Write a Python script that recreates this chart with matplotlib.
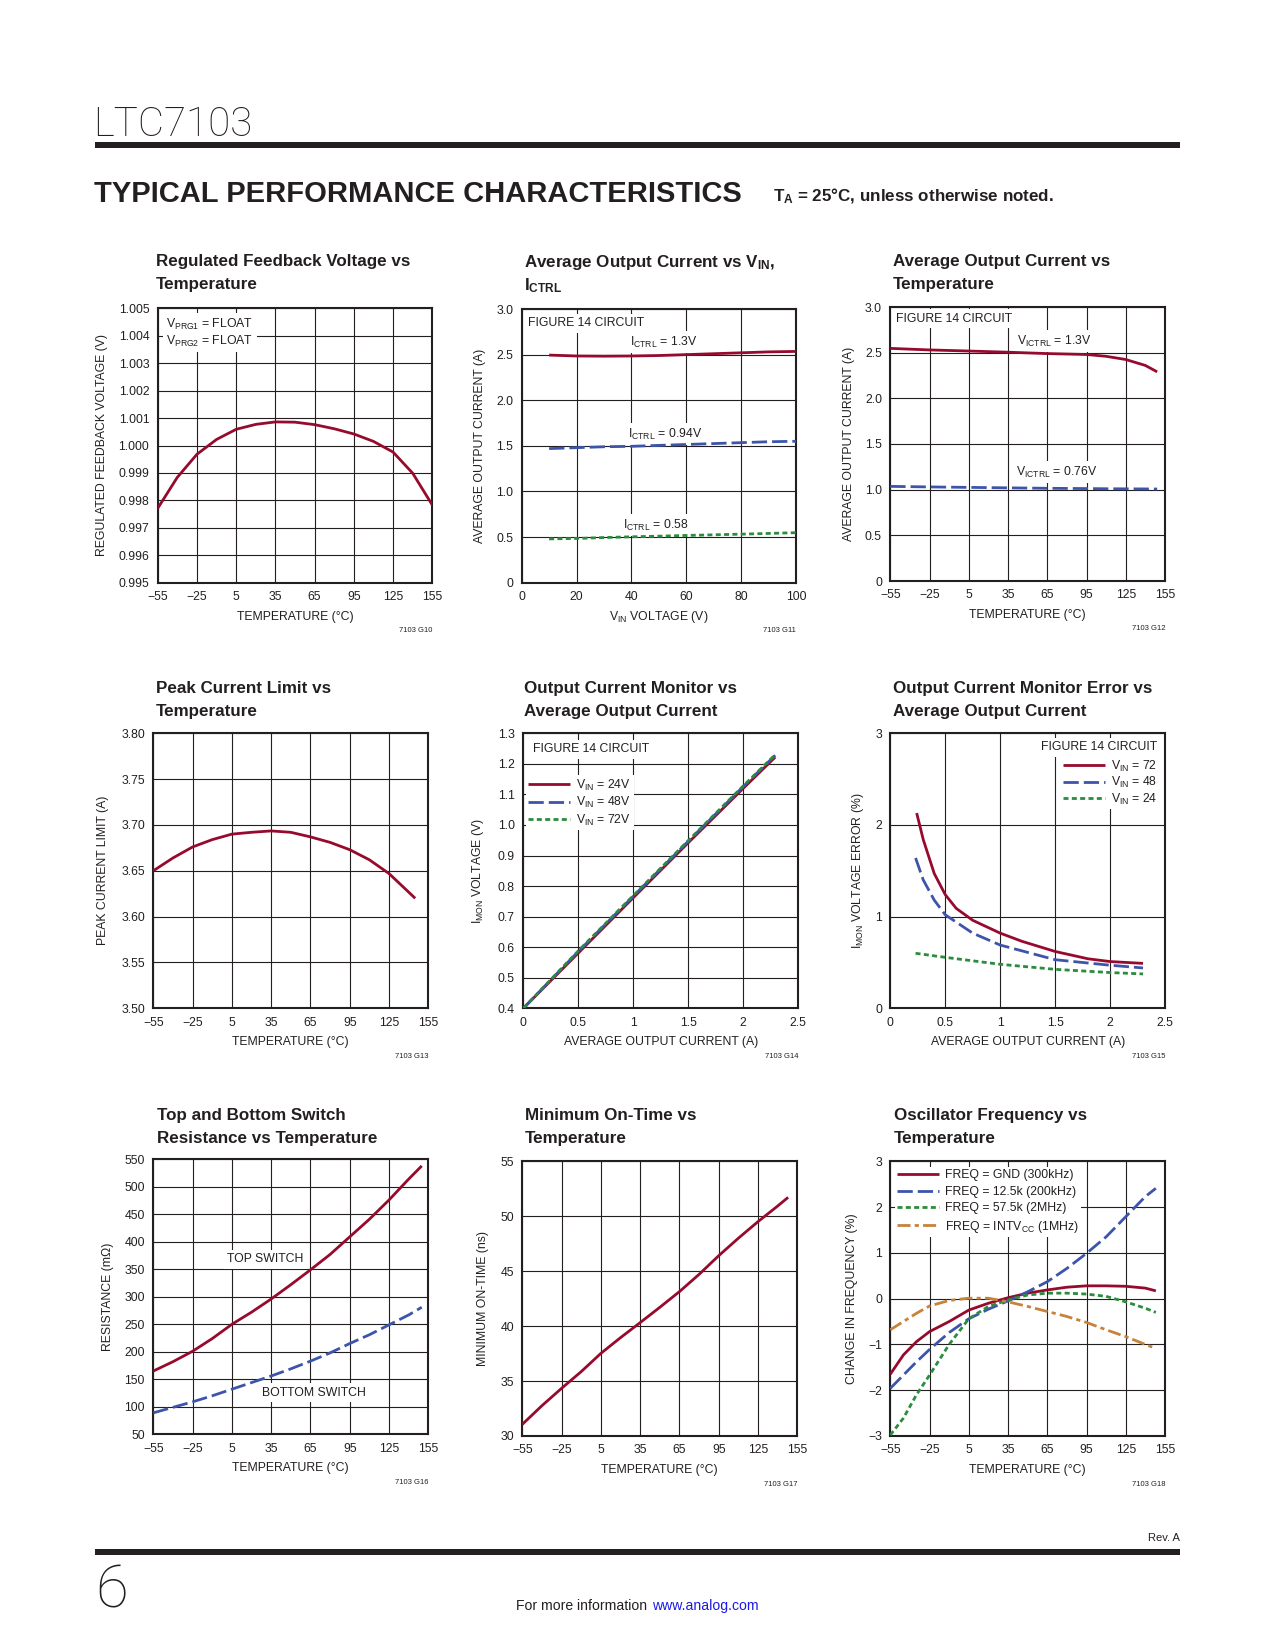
import matplotlib
matplotlib.use("Agg")
import matplotlib.pyplot as plt
from matplotlib import font_manager
from matplotlib.patches import Rectangle

# ========================================================================
# data

temp_ticks = [-55, -25, 5, 35, 65, 95, 125, 155]
temp_labels = ["\u221255", "\u221225", "5", "35", "65", "95", "125", "155"]
amp_ticks = [0, 0.5, 1.0, 1.5, 2.0, 2.5]
amp_labels = ["0", "0.5", "1", "1.5", "2", "2.5"]

# G10 regulated feedback voltage
fb_temp = [-55, -40, -25, -10, 5, 20, 35, 50, 65, 80, 95, 110, 125, 140, 155]
fb_volt = [0.99771, 0.99884, 0.99968, 1.00022, 1.00059, 1.00077, 1.00086, 1.00085,
           1.00076, 1.00061, 1.00042, 1.00015, 0.99976, 0.99899, 0.99783]
fb_ticks = [0.995, 0.996, 0.997, 0.998, 0.999, 1.000, 1.001, 1.002, 1.003, 1.004, 1.005]
fb_labels = ["0.995", "0.996", "0.997", "0.998", "0.999", "1.000", "1.001", "1.002",
             "1.003", "1.004", "1.005"]

# G11 average output current vs VIN
vin = [10, 20, 30, 40, 50, 60, 70, 80, 90, 100]
iout_13 = [2.495, 2.485, 2.483, 2.485, 2.49, 2.50, 2.51, 2.52, 2.53, 2.535]
iout_094 = [1.47, 1.48, 1.49, 1.495, 1.505, 1.515, 1.525, 1.535, 1.545, 1.55]
iout_058 = [0.48, 0.485, 0.495, 0.503, 0.51, 0.518, 0.525, 0.532, 0.54, 0.548]
vin_ticks = [0, 20, 40, 60, 80, 100]
vin_labels = ["0", "20", "40", "60", "80", "100"]
cur_ticks = [0, 0.5, 1.0, 1.5, 2.0, 2.5, 3.0]
cur_labels = ["0", "0.5", "1.0", "1.5", "2.0", "2.5", "3.0"]

# G12 average output current vs temperature
ot_temp = [-55, -25, 5, 35, 65, 95, 110, 125, 140, 149]
ot_13 = [2.547, 2.53, 2.518, 2.505, 2.49, 2.48, 2.46, 2.425, 2.36, 2.29]
ot_076 = [1.036, 1.03, 1.025, 1.02, 1.015, 1.012, 1.01, 1.009, 1.008, 1.007]

# G13 peak current limit
pk_temp = [-55, -40, -25, -10, 5, 20, 35, 50, 65, 80, 95, 110, 125, 145]
pk_amp = [3.650, 3.664, 3.676, 3.684, 3.690, 3.692, 3.6935, 3.692, 3.687, 3.681,
          3.673, 3.662, 3.647, 3.620]
pk_ticks = [3.50, 3.55, 3.60, 3.65, 3.70, 3.75, 3.80]
pk_labels = ["3.50", "3.55", "3.60", "3.65", "3.70", "3.75", "3.80"]

# G14 IMON voltage
mon_i = [0, 0.5, 1.0, 1.5, 2.0, 2.29]
mon_24 = [0.40, 0.581, 0.762, 0.942, 1.120, 1.222]
mon_48 = [0.40, 0.586, 0.767, 0.947, 1.126, 1.228]
mon_72 = [0.40, 0.588, 0.769, 0.949, 1.128, 1.230]
mon_ticks = [0.4, 0.5, 0.6, 0.7, 0.8, 0.9, 1.0, 1.1, 1.2, 1.3]
mon_labels = ["0.4", "0.5", "0.6", "0.7", "0.8", "0.9", "1.0", "1.1", "1.2", "1.3"]

# G15 IMON error
err_i_72 = [0.24, 0.3, 0.4, 0.5, 0.6, 0.75, 1.0, 1.2, 1.5, 1.8, 2.0, 2.3]
err_72 = [2.13, 1.84, 1.47, 1.24, 1.09, 0.96, 0.82, 0.73, 0.62, 0.54, 0.51, 0.49]
err_i_48 = [0.23, 0.3, 0.4, 0.5, 0.75, 1.0, 1.5, 2.0, 2.3]
err_48 = [1.64, 1.40, 1.18, 1.02, 0.82, 0.69, 0.53, 0.47, 0.44]
err_i_24 = [0.23, 0.5, 1.0, 1.5, 2.0, 2.3]
err_24 = [0.60, 0.556, 0.48, 0.425, 0.39, 0.375]
err_ticks = [0, 1, 2, 3]
err_labels = ["0", "1", "2", "3"]

# G16 switch resistance
sw_temp = [-55, -40, -25, -10, 5, 20, 35, 50, 65, 80, 95, 110, 125, 140, 150]
sw_top = [165, 182, 201, 224, 250, 272, 296, 322, 349, 377, 409, 441, 476, 514, 538]
sw_bot = [89, 99, 109, 120, 132, 144, 156, 169, 183, 198, 215, 231, 249, 267, 281]
res_ticks = [50, 100, 150, 200, 250, 300, 350, 400, 450, 500, 550]
res_labels = ["50", "100", "150", "200", "250", "300", "350", "400", "450", "500", "550"]

# G17 minimum on-time
mot_temp = [-55, -40, -25, -10, 5, 20, 35, 50, 65, 80, 95, 110, 125, 140, 148]
mot_ns = [31.06, 32.76, 34.34, 35.86, 37.52, 38.95, 40.32, 41.71, 43.14, 44.71,
          46.41, 48.0, 49.51, 50.93, 51.72]
mot_ticks = [30, 35, 40, 45, 50, 55]
mot_labels = ["30", "35", "40", "45", "50", "55"]

# G18 oscillator frequency
osc_temp = [-55, -45, -35, -25, -10, 5, 20, 35, 50, 65, 80, 95, 110, 125, 140, 148]
osc_gnd = [-1.65, -1.23, -0.94, -0.72, -0.50, -0.25, -0.10, 0.02, 0.12, 0.19, 0.25,
           0.28, 0.28, 0.27, 0.23, 0.17]
osc_125k = [-1.96, -1.67, -1.38, -1.11, -0.74, -0.44, -0.23, -0.05, 0.15, 0.37, 0.66,
            0.99, 1.35, 1.79, 2.23, 2.41]
osc_575k = [-2.98, -2.61, -2.10, -1.67, -1.00, -0.44, -0.17, -0.03, 0.08, 0.12, 0.12,
            0.10, 0.05, -0.07, -0.21, -0.30]
osc_intv = [-0.68, -0.50, -0.32, -0.16, -0.04, 0.01, 0.01, -0.07, -0.17, -0.28, -0.39,
            -0.52, -0.68, -0.83, -1.00, -1.09]
osc_ticks = [-3, -2, -1, 0, 1, 2, 3]
osc_labels = ["\u22123", "\u22122", "\u22121", "0", "1", "2", "3"]

# ========================================================================
# fonts and style

installed = {f.name for f in font_manager.fontManager.ttflist}
if "Liberation Sans Narrow" in installed:
    NARROW = "Liberation Sans Narrow"
    K = 1.0
else:
    NARROW = "Liberation Sans"
    K = 0.84
plt.rcParams["font.family"] = [NARROW, "DejaVu Sans"]
plt.rcParams["mathtext.fontset"] = "custom"
plt.rcParams["mathtext.rm"] = NARROW
plt.rcParams["mathtext.it"] = NARROW
plt.rcParams["mathtext.bf"] = NARROW + ":bold"
plt.rcParams["mathtext.default"] = "rm"

INK = "#231F20"
RED = "#960A2D"
BLUE = "#3C55AA"
GREEN = "#2A8C3C"
ORANGE = "#C8823A"
FS = 10.5 * K
TFS = 14.6 * K
W, H = 1275, 1650

fig = plt.figure(figsize=(W / 100, H / 100), dpi=100)


def fx(x):
    return x / W


def fy(y):
    return 1 - y / H


def page_text(x, y, s, size, **kw):
    kw.setdefault("color", INK)
    fig.text(fx(x), fy(y), s, fontsize=size, **kw)


def note(ax, x, y, s, ha="left"):
    ax.text(fx(x), fy(y), s, transform=fig.transFigure, fontsize=FS, color=INK,
            ha=ha, va="center_baseline", zorder=1.8,
            bbox=dict(fc="white", ec="none", pad=2.5))


def make_axes(rect, xlim, ylim, xt, xl, yt, yl, xlabel, ylabel, yoff, title, tpos, tag):
    l, t, r, b = rect
    ax = fig.add_axes([fx(l), fy(b), (r - l) / W, (b - t) / H])
    ax.set_xlim(*xlim)
    ax.set_ylim(*ylim)
    ax.set_xticks(xt, xl)
    ax.set_yticks(yt, yl)
    ax.grid(True, color=INK, lw=0.8)
    ax.tick_params(length=0, labelsize=FS, colors=INK, pad=6)
    for s in ax.spines.values():
        s.set_linewidth(1.5)
        s.set_color(INK)
    ax.set_xlabel(xlabel, fontsize=FS, color=INK, va="center")
    ax.xaxis.set_label_coords(0.5, -34 / (b - t))
    ax.set_ylabel(ylabel, fontsize=FS, color=INK, va="center")
    ax.yaxis.set_label_coords(-yoff / (r - l), 0.5)
    tx, ty1, ty2 = tpos
    page_text(tx, ty1, title[0], TFS, fontweight="bold", va="center_baseline")
    page_text(tx, ty2, title[1], TFS, fontweight="bold", va="center_baseline")
    page_text(r, b + 48, tag, 6.5 * K, ha="right", va="center")
    return ax


def leg(ax, loc, x, y, spacing):
    lg = ax.legend(loc=loc, bbox_to_anchor=(fx(x), fy(y)), bbox_transform=fig.transFigure,
                   fontsize=FS, frameon=True, fancybox=False, framealpha=1,
                   facecolor="white", edgecolor="none", borderpad=0.2, borderaxespad=0,
                   handlelength=3.4, handletextpad=0.5, labelspacing=spacing, labelcolor=INK)
    lg.set_zorder(1.8)


solid = dict(color=RED, lw=2, zorder=3, solid_capstyle="butt")
dashed = dict(color=BLUE, lw=2, zorder=3, dashes=(5.5, 1.8))
dotted = dict(color=GREEN, lw=2, zorder=3, dashes=(1.8, 1.2))
dashdot = dict(color=ORANGE, lw=2, zorder=3, dashes=(4.7, 1.5, 1.5, 1.5))

TEMP = "TEMPERATURE (\u00b0C)"
AVG = "AVERAGE OUTPUT CURRENT (A)"
tlim = (-55, 155)

# ========================================================================
# page header / footer

page_text(93, 136, "LTC7103", 29, family=["Roboto", "DejaVu Sans"], fontweight="light")
fig.add_artist(Rectangle((fx(95), fy(148)), (1180 - 95) / W, 6 / H, transform=fig.transFigure,
                         color=INK, lw=0))
page_text(94, 202, "TYPICAL PERFORMANCE CHARACTERISTICS", 25 * K, fontweight="bold")
page_text(773, 201, "T$_{\\mathbf{A}}$ = 25\u00b0C, unless otherwise noted.",
          14.6 * K, fontweight="bold")
page_text(1180, 1541, "Rev. A", 9.5 * K, ha="right")
fig.add_artist(Rectangle((fx(95), fy(1555)), (1180 - 95) / W, 6 / H, transform=fig.transFigure,
                         color=INK, lw=0))
page_text(95, 1607, "6", 43, family=["Roboto", "DejaVu Sans"], fontweight="light")
page_text(647, 1610, "For more information", 12 * K, ha="right")
page_text(652, 1610, "www.analog.com", 12 * K, ha="left", color="#1A1AE6")

# ========================================================================
# G10
ax = make_axes((157.7, 308.3, 432.3, 582.7), tlim, (0.995, 1.005), temp_ticks, temp_labels,
               fb_ticks, fb_labels, TEMP, "REGULATED FEEDBACK VOLTAGE (V)", 56,
               ["Regulated Feedback Voltage vs", "Temperature"], (156, 260, 283), "7103 G10")
ax.plot(fb_temp, fb_volt, **solid)
note(ax, 166, 322, r"V$_{\mathrm{PRG1}}$ = FLOAT")
note(ax, 166, 339, r"V$_{\mathrm{PRG2}}$ = FLOAT")

# G11
ax = make_axes((521.7, 309, 796, 582.7), (0, 100), (0, 3.0), vin_ticks, vin_labels,
               cur_ticks, cur_labels, r"V$_{\mathrm{IN}}$ VOLTAGE (V)",
               "AVERAGE OUTPUT CURRENT (A)", 42,
               [r"Average Output Current vs V$_{\mathbf{IN}}$,", r"I$_{\mathbf{CTRL}}$"],
               (524, 260, 283), "7103 G11")
ax.plot(vin, iout_13, **solid)
ax.plot(vin, iout_094, **dashed)
ax.plot(vin, iout_058, **dotted)
note(ax, 528, 322, "FIGURE 14 CIRCUIT")
note(ax, 630, 340, r"I$_{\mathrm{CTRL}}$ = 1.3V")
note(ax, 628, 432, r"I$_{\mathrm{CTRL}}$ = 0.94V")
note(ax, 623, 523, r"I$_{\mathrm{CTRL}}$ = 0.58")

# G12
ax = make_axes((890.3, 307, 1165, 581), tlim, (0, 3.0), temp_ticks, temp_labels,
               cur_ticks, cur_labels, TEMP, "AVERAGE OUTPUT CURRENT (A)", 41,
               ["Average Output Current vs", "Temperature"], (893, 260, 283), "7103 G12")
ax.plot(ot_temp, ot_13, **solid)
ax.plot(ot_temp, ot_076, **dashed)
note(ax, 896, 317, "FIGURE 14 CIRCUIT")
note(ax, 1017, 339, r"V$_{\mathrm{ICTRL}}$ = 1.3V")
note(ax, 1016, 470, r"V$_{\mathrm{ICTRL}}$ = 0.76V")

# G13
ax = make_axes((153.3, 733.3, 428.3, 1008.3), tlim, (3.50, 3.80), temp_ticks, temp_labels,
               pk_ticks, pk_labels, TEMP, "PEAK CURRENT LIMIT (A)", 50,
               ["Peak Current Limit vs", "Temperature"], (156, 687, 710), "7103 G13")
ax.plot(pk_temp, pk_amp, **solid)

# G14
ax = make_axes((523.3, 733.3, 798.3, 1008.3), (0, 2.5), (0.4, 1.3), amp_ticks, amp_labels,
               mon_ticks, mon_labels, AVG, r"I$_{\mathrm{MON}}$ VOLTAGE (V)", 45,
               ["Output Current Monitor vs", "Average Output Current"], (524, 687, 710),
               "7103 G14")
ax.plot(mon_i, mon_24, label=r"V$_{\mathrm{IN}}$ = 24V", **solid)
ax.plot(mon_i, mon_48, label=r"V$_{\mathrm{IN}}$ = 48V", **dashed)
ax.plot(mon_i, mon_72, label=r"V$_{\mathrm{IN}}$ = 72V", **dotted)
note(ax, 533, 748, "FIGURE 14 CIRCUIT")
leg(ax, "upper left", 526, 775, 0.2)

# G15
ax = make_axes((890.3, 733.3, 1165, 1008.3), (0, 2.5), (0, 3), amp_ticks, amp_labels,
               err_ticks, err_labels, AVG, r"I$_{\mathrm{MON}}$ VOLTAGE ERROR (%)", 32,
               ["Output Current Monitor Error vs", "Average Output Current"], (893, 687, 710),
               "7103 G15")
ax.plot(err_i_72, err_72, label=r"V$_{\mathrm{IN}}$ = 72", **solid)
ax.plot(err_i_48, err_48, label=r"V$_{\mathrm{IN}}$ = 48", **dashed)
ax.plot(err_i_24, err_24, label=r"V$_{\mathrm{IN}}$ = 24", **dotted)
note(ax, 1157, 746, "FIGURE 14 CIRCUIT", ha="right")
leg(ax, "upper right", 1160, 756, 0.12)

# G16
ax = make_axes((153.3, 1159.3, 428.3, 1434.3), tlim, (50, 550), temp_ticks, temp_labels,
               res_ticks, res_labels, TEMP, "RESISTANCE (m\u03a9)", 45,
               ["Top and Bottom Switch", "Resistance vs Temperature"], (157, 1114, 1137),
               "7103 G16")
ax.plot(sw_temp, sw_top, **solid)
ax.plot(sw_temp, sw_bot, **dashed)
note(ax, 227, 1258, "TOP SWITCH")
note(ax, 262, 1391, "BOTTOM SWITCH")

# G17
ax = make_axes((522.3, 1161.3, 797.3, 1436), tlim, (30, 55), temp_ticks, temp_labels,
               mot_ticks, mot_labels, TEMP, "MINIMUM ON-TIME (ns)", 39,
               ["Minimum On-Time vs", "Temperature"], (525, 1114, 1137), "7103 G17")
ax.plot(mot_temp, mot_ns, **solid)

# G18
ax = make_axes((890.3, 1161.3, 1165, 1436), tlim, (-3, 3), temp_ticks, temp_labels,
               osc_ticks, osc_labels, TEMP, "CHANGE IN FREQUENCY (%)", 38,
               ["Oscillator Frequency vs", "Temperature"], (894, 1114, 1137), "7103 G18")
ax.plot(osc_temp, osc_gnd, label="FREQ = GND (300kHz)", **solid)
ax.plot(osc_temp, osc_125k, label="FREQ = 12.5k (200kHz)", **dashed)
ax.plot(osc_temp, osc_575k, label="FREQ = 57.5k (2MHz)", **dotted)
ax.plot(osc_temp, osc_intv, label=r"FREQ = INTV$_{\mathrm{CC}}$ (1MHz)", **dashdot)
leg(ax, "upper left", 895, 1167, 0.36)

fig.savefig("out.png", dpi=100, facecolor="white")
